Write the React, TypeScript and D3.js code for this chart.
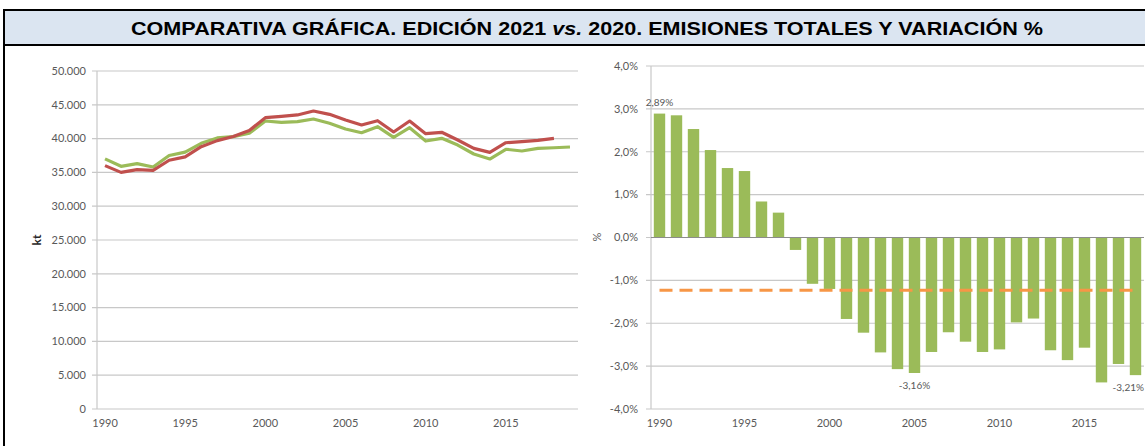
import { useEffect, useRef } from 'react';
import * as d3 from 'd3';

// series data
const years = [
  1990, 1991, 1992, 1993, 1994, 1995, 1996, 1997, 1998, 1999,
  2000, 2001, 2002, 2003, 2004, 2005, 2006, 2007, 2008, 2009,
  2010, 2011, 2012, 2013, 2014, 2015, 2016, 2017, 2018, 2019,
];

// kt, edición 2021 (verde)
const emisiones2021 = [
  37000, 35900, 36300, 35800, 37500, 38000, 39300, 40100, 40300, 40800,
  42600, 42400, 42500, 42900, 42260, 41420, 40870, 41760, 40190, 41610,
  39640, 40040, 39050, 37720, 36980, 38420, 38170, 38560, 38650, 38760,
];

// kt, edición 2020 (rojo), hasta 2018
const emisiones2020 = [
  36000, 35000, 35400, 35300, 36800, 37300, 38800, 39700, 40300, 41200,
  43100, 43300, 43500, 44080, 43590, 42750, 42010, 42650, 40980, 42600,
  40730, 40930, 39790, 38560, 37970, 39390, 39540, 39740, 40040,
];

const variacionYears = years.slice(0, 29);
const variacion = [
  2.89, 2.85, 2.53, 2.04, 1.62, 1.55, 0.84, 0.58, -0.29, -1.08,
  -1.2, -1.9, -2.22, -2.68, -3.07, -3.16, -2.67, -2.21, -2.43, -2.67,
  -2.61, -1.98, -1.89, -2.63, -2.86, -2.57, -3.38, -2.95, -3.21,
];
const variacionMedia = -1.23;
const labelledYears = [1990, 2005, 2018];

const leftTicks = [0, 5000, 10000, 15000, 20000, 25000, 30000, 35000, 40000, 45000, 50000];
const rightTicks = [-4, -3, -2, -1, 0, 1, 2, 3, 4];
const yearLabels = [1990, 1995, 2000, 2005, 2010, 2015];

const title = 'COMPARATIVA GRÁFICA. EDICIÓN 2021 ';
const titleEnd = ' 2020. EMISIONES TOTALES Y VARIACIÓN %';

const W = 1145;
const H = 446;
const tickFont = 'Lato, "Open Sans", sans-serif';
const tickColor = '#595959';
const gridColor = '#c8c8c8';

const fmtThousands = (v: number) => d3.format(',')(v).replace(/,/g, '.');
const fmtPct = (v: number) => d3.format('.1f')(v).replace('.', ',').replace('−', '-') + '%';
const fmtPct2 = (v: number) => d3.format('.2f')(v).replace('.', ',').replace('−', '-') + '%';

const App = () => {
  const ref = useRef<SVGSVGElement | null>(null);

  useEffect(() => {
    if (!ref.current) return;
    const svg = d3.select(ref.current);
    svg.selectAll('*').remove();

    svg.attr('width', W).attr('height', H).attr('viewBox', `0 0 ${W} ${H}`);

    // frame + title band
    svg.append('rect').attr('x', 0).attr('y', 0).attr('width', W).attr('height', H).attr('fill', '#fff');
    svg
      .append('rect')
      .attr('x', 4)
      .attr('y', 10)
      .attr('width', W + 10)
      .attr('height', 35)
      .attr('fill', '#dbe5f1')
      .attr('stroke', '#000')
      .attr('stroke-width', 2);
    svg
      .append('line')
      .attr('x1', 4)
      .attr('x2', 4)
      .attr('y1', 45)
      .attr('y2', H + 5)
      .attr('stroke', '#000')
      .attr('stroke-width', 2);

    const t = svg
      .append('text')
      .attr('x', 131)
      .attr('y', 35)
      .attr('textLength', 912)
      .attr('lengthAdjust', 'spacingAndGlyphs')
      .attr('font-family', '"Liberation Sans", Arial, sans-serif')
      .attr('font-weight', 'bold')
      .attr('font-size', 19)
      .attr('fill', '#000');
    t.append('tspan').text(title);
    t.append('tspan').attr('font-style', 'italic').text('vs.');
    t.append('tspan').text(titleEnd);

    // ---------- left chart: emisiones totales ----------
    const xL = d3.scaleBand<number>().domain(years).range([97, 578]);
    const yL = d3.scaleLinear().domain([0, 50000]).range([409, 71]);
    const left = svg.append('g');

    left
      .append('g')
      .selectAll('line')
      .data(leftTicks)
      .enter()
      .append('line')
      .attr('x1', 92)
      .attr('x2', 578)
      .attr('y1', (d) => yL(d))
      .attr('y2', (d) => yL(d))
      .attr('stroke', gridColor)
      .attr('stroke-width', 1.2);

    left
      .append('line')
      .attr('x1', 97)
      .attr('x2', 97)
      .attr('y1', yL(50000))
      .attr('y2', yL(0))
      .attr('stroke', gridColor)
      .attr('stroke-width', 1.2);

    left
      .append('g')
      .selectAll('text')
      .data(leftTicks)
      .enter()
      .append('text')
      .attr('x', 86)
      .attr('y', (d) => yL(d))
      .attr('dy', '0.35em')
      .attr('text-anchor', 'end')
      .attr('font-family', tickFont)
      .attr('font-size', 11)
      .attr('fill', tickColor)
      .text((d) => fmtThousands(d));

    left
      .append('g')
      .selectAll('text')
      .data(yearLabels)
      .enter()
      .append('text')
      .attr('x', (d) => (xL(d) ?? 0) + xL.bandwidth() / 2)
      .attr('y', 427)
      .attr('text-anchor', 'middle')
      .attr('font-family', tickFont)
      .attr('font-size', 11)
      .attr('fill', tickColor)
      .text((d) => d);

    left
      .append('text')
      .attr('transform', `translate(41,240) rotate(-90)`)
      .attr('text-anchor', 'middle')
      .attr('font-family', tickFont)
      .attr('font-weight', 'bold')
      .attr('font-size', 12)
      .attr('fill', '#262626')
      .text('kt');

    const line = d3
      .line<number>()
      .x((_, i) => (xL(years[i]) ?? 0) + xL.bandwidth() / 2)
      .y((d) => yL(d));

    left
      .append('path')
      .datum(emisiones2021)
      .attr('d', line)
      .attr('fill', 'none')
      .attr('stroke', '#9bbb59')
      .attr('stroke-width', 3.2)
      .attr('stroke-linejoin', 'round');

    left
      .append('path')
      .datum(emisiones2020)
      .attr('d', line)
      .attr('fill', 'none')
      .attr('stroke', '#c0504d')
      .attr('stroke-width', 3.2)
      .attr('stroke-linejoin', 'round');

    // ---------- right chart: variación % ----------
    const xR = d3
      .scaleBand<number>()
      .domain(variacionYears)
      .range([651, 1144])
      .paddingInner(0.33)
      .paddingOuter(0.165);
    const yR = d3.scaleLinear().domain([-4, 4]).range([409, 66]);
    const right = svg.append('g');
    const cx = (d: number) => (xR(d) ?? 0) + xR.bandwidth() / 2;

    right
      .append('g')
      .selectAll('line')
      .data(rightTicks)
      .enter()
      .append('line')
      .attr('x1', 646)
      .attr('x2', 1144)
      .attr('y1', (d) => yR(d))
      .attr('y2', (d) => yR(d))
      .attr('stroke', gridColor)
      .attr('stroke-width', 1.2);

    right
      .append('line')
      .attr('x1', 651)
      .attr('x2', 651)
      .attr('y1', yR(4))
      .attr('y2', yR(-4))
      .attr('stroke', gridColor)
      .attr('stroke-width', 1.2);

    right
      .append('g')
      .selectAll('text')
      .data(rightTicks)
      .enter()
      .append('text')
      .attr('x', 638)
      .attr('y', (d) => yR(d))
      .attr('dy', '0.35em')
      .attr('text-anchor', 'end')
      .attr('font-family', tickFont)
      .attr('font-size', 11)
      .attr('fill', tickColor)
      .text((d) => fmtPct(d));

    right
      .append('g')
      .selectAll('text')
      .data(yearLabels)
      .enter()
      .append('text')
      .attr('x', (d) => cx(d))
      .attr('y', 427)
      .attr('text-anchor', 'middle')
      .attr('font-family', tickFont)
      .attr('font-size', 11)
      .attr('fill', tickColor)
      .text((d) => d);

    right
      .append('text')
      .attr('transform', `translate(601,237) rotate(-90)`)
      .attr('text-anchor', 'middle')
      .attr('font-family', tickFont)
      .attr('font-size', 11)
      .attr('fill', tickColor)
      .text('%');

    right
      .append('g')
      .selectAll('rect')
      .data(variacion)
      .enter()
      .append('rect')
      .attr('x', (_, i) => xR(variacionYears[i]) ?? 0)
      .attr('y', (d) => yR(Math.max(0, d)))
      .attr('width', xR.bandwidth())
      .attr('height', (d) => Math.abs(yR(d) - yR(0)))
      .attr('fill', '#9bbb59');

    right
      .append('line')
      .attr('x1', 651)
      .attr('x2', 1144)
      .attr('y1', yR(0))
      .attr('y2', yR(0))
      .attr('stroke', '#8c8c8c')
      .attr('stroke-width', 1.2);

    const meanLine = d3
      .line<number>()
      .x((d) => cx(d))
      .y(() => yR(variacionMedia));

    right
      .append('path')
      .datum([variacionYears[0], variacionYears[variacionYears.length - 1]])
      .attr('d', meanLine)
      .attr('fill', 'none')
      .attr('stroke', '#f79646')
      .attr('stroke-width', 3)
      .attr('stroke-dasharray', '13 7');

    const lastYear = variacionYears[variacionYears.length - 1];
    right
      .append('g')
      .selectAll('text')
      .data(labelledYears)
      .enter()
      .append('text')
      .attr('x', (d) => (d === lastYear ? W - 1 : cx(d)))
      .attr('y', (d) => {
        const v = variacion[variacionYears.indexOf(d)];
        return v > 0 ? yR(v) - 8 : yR(v) + 16;
      })
      .attr('text-anchor', (d) => (d === lastYear ? 'end' : 'middle'))
      .attr('font-family', tickFont)
      .attr('font-size', 10)
      .attr('fill', tickColor)
      .text((d) => fmtPct2(variacion[variacionYears.indexOf(d)]));
  }, []);

  return (
    <div style={{ position: 'absolute', left: 0, top: 0 }}>
      <svg ref={ref} role="img" aria-label="Comparativa emisiones totales y variación" style={{ display: 'block' }} />
    </div>
  );
};

export default App;
